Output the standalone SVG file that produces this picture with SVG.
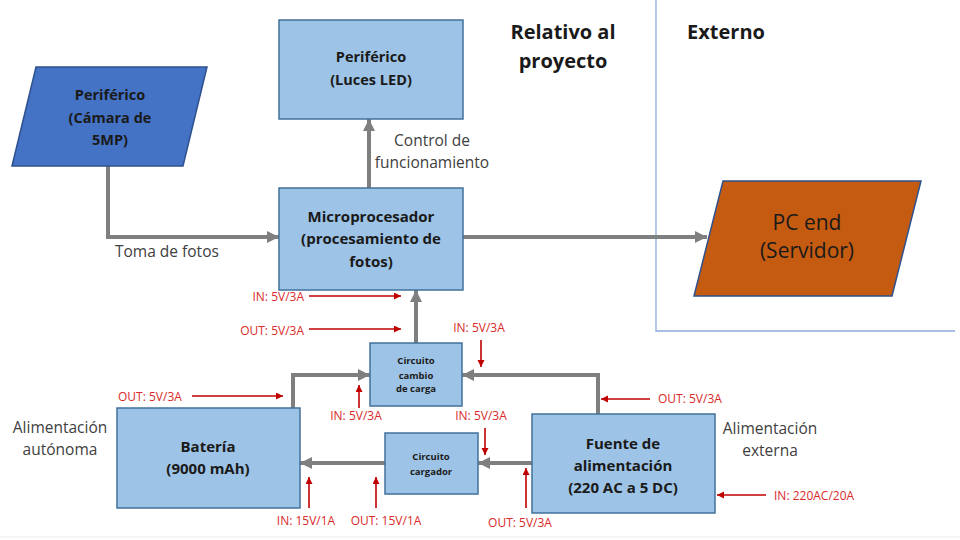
<svg xmlns="http://www.w3.org/2000/svg" width="960" height="540" viewBox="0 0 960 540">
<defs>
<style>
.box{fill:#9DC3E6;stroke:#41719C;stroke-width:1.5}
.bt{font-family:"Open Sans","Liberation Sans",sans-serif;font-weight:bold;fill:#1a1a1a;text-anchor:middle}
.lbl{font-family:"Open Sans","Liberation Sans",sans-serif;fill:#404040;font-size:15.5px}
.red{font-family:"Open Sans","Liberation Sans",sans-serif;fill:#D82A2A;font-size:12px}
.g{stroke:#7F7F7F;stroke-width:4;fill:none;marker-end:url(#ga)}
.r{stroke:#C00000;stroke-width:1.6;fill:none;marker-end:url(#ra)}
</style>
<marker id="ga" markerWidth="14" markerHeight="14" refX="12" refY="7" orient="auto" markerUnits="userSpaceOnUse"><path d="M0,1 L12,7 L0,13 z" fill="#7F7F7F"/></marker>
<marker id="ra" markerWidth="8" markerHeight="8" refX="7" refY="3.5" orient="auto" markerUnits="userSpaceOnUse"><path d="M0,0 L7,3.5 L0,7 z" fill="#C00000"/></marker>
</defs>
<rect width="960" height="540" fill="#ffffff"/>
<line x1="0" y1="537" x2="960" y2="537" stroke="#EBEBEB" stroke-width="1"/>
<path d="M656,0 V331 H955" fill="none" stroke="#8FAADC" stroke-width="1.3"/>
<g id="headers">
<text class="bt" x="563" y="39" font-size="20">Relativo al</text>
<text class="bt" x="563" y="68" font-size="20">proyecto</text>
<text class="bt" x="726" y="39" font-size="20">Externo</text>
</g>
<g id="connectors">
<path class="g" d="M108,166 V237 H279"/>
<path class="g" d="M369,188 V119"/>
<path class="g" d="M463,237 H707"/>
<path class="g" d="M416,343 V290"/>
<path class="g" d="M293,408 V375 H370"/>
<path class="g" d="M598,414 V375 H462"/>
<path class="g" d="M385,463 H300"/>
<path class="g" d="M532,463 H478"/>
<path class="r" d="M309,296 H401"/>
<path class="r" d="M309,329 H401"/>
<path class="r" d="M481,340 V367"/>
<path class="r" d="M359,408 V385"/>
<path class="r" d="M485,428 V455"/>
<path class="r" d="M192,396 H283"/>
<path class="r" d="M309,508 V477"/>
<path class="r" d="M376,508 V477"/>
<path class="r" d="M526,508 V468"/>
<path class="r" d="M650,399 H601"/>
<path class="r" d="M766,495 H717"/>
</g>
<g id="camara">
<polygon points="36,67 207,67 183,166 12,166" fill="#4472C4" stroke="#2F528F" stroke-width="1.5"/>
<text class="bt" x="110" y="100" font-size="14.5">Periférico</text>
<text class="bt" x="110" y="123" font-size="14.5">(Cámara de</text>
<text class="bt" x="110" y="145" font-size="14.5">5MP)</text>
</g>
<g id="luces">
<rect class="box" x="279" y="20" width="184" height="99"/>
<text class="bt" x="371" y="62" font-size="14.5">Periférico</text>
<text class="bt" x="371" y="85" font-size="14.5">(Luces LED)</text>
</g>
<g id="micro">
<rect class="box" x="279" y="188" width="184" height="102"/>
<text class="bt" x="371" y="222" font-size="15">Microprocesador</text>
<text class="bt" x="371" y="244" font-size="15">(procesamiento de</text>
<text class="bt" x="371" y="267" font-size="15">fotos)</text>
</g>
<g id="pc">
<polygon points="723,181 921,181 892,296 694,296" fill="#C55A11" stroke="#2F528F" stroke-width="1.5"/>
<text x="807" y="230" font-size="21" text-anchor="middle" font-family="'Open Sans','Liberation Sans',sans-serif" fill="#1a1a1a">PC end</text>
<text x="807" y="258" font-size="21" text-anchor="middle" font-family="'Open Sans','Liberation Sans',sans-serif" fill="#1a1a1a">(Servidor)</text>
</g>
<g id="cambio">
<rect class="box" x="370" y="343" width="92" height="63"/>
<text class="bt" x="416" y="364" font-size="9.5">Circuito</text>
<text class="bt" x="416" y="379" font-size="9.5">cambio</text>
<text class="bt" x="416" y="392" font-size="9.5">de carga</text>
</g>
<g id="cargador">
<rect class="box" x="385" y="433" width="93" height="61"/>
<text class="bt" x="431" y="460" font-size="9.5">Circuito</text>
<text class="bt" x="431" y="475" font-size="9.5">cargador</text>
</g>
<g id="bateria">
<rect class="box" x="117" y="408" width="183" height="100"/>
<text class="bt" x="208" y="452" font-size="15">Batería</text>
<text class="bt" x="208" y="474" font-size="15">(9000 mAh)</text>
</g>
<g id="fuente">
<rect class="box" x="532" y="414" width="183" height="99"/>
<text class="bt" x="623" y="449" font-size="15">Fuente de</text>
<text class="bt" x="623" y="471" font-size="15">alimentación</text>
<text class="bt" x="623" y="493" font-size="15">(220 AC a 5 DC)</text>
</g>
<g id="labels">
<text class="lbl" x="115" y="257">Toma de fotos</text>
<text class="lbl" x="432" y="146" text-anchor="middle">Control de</text>
<text class="lbl" x="432" y="168" text-anchor="middle">funcionamiento</text>
<text class="lbl" x="60" y="433" text-anchor="middle">Alimentación</text>
<text class="lbl" x="60" y="455" text-anchor="middle">autónoma</text>
<text class="lbl" x="770" y="434" text-anchor="middle">Alimentación</text>
<text class="lbl" x="770" y="456" text-anchor="middle">externa</text>
</g>
<g id="red-labels">
<text class="red" x="304" y="301" text-anchor="end">IN: 5V/3A</text>
<text class="red" x="304" y="335" text-anchor="end">OUT: 5V/3A</text>
<text class="red" x="479" y="332" text-anchor="middle">IN: 5V/3A</text>
<text class="red" x="356" y="420" text-anchor="middle">IN: 5V/3A</text>
<text class="red" x="481" y="420" text-anchor="middle">IN: 5V/3A</text>
<text class="red" x="118" y="401">OUT: 5V/3A</text>
<text class="red" x="658" y="403">OUT: 5V/3A</text>
<text class="red" x="306" y="525" text-anchor="middle">IN: 15V/1A</text>
<text class="red" x="386" y="525" text-anchor="middle">OUT: 15V/1A</text>
<text class="red" x="520" y="527" text-anchor="middle">OUT: 5V/3A</text>
<text class="red" x="774" y="500">IN: 220AC/20A</text>
</g>
</svg>
